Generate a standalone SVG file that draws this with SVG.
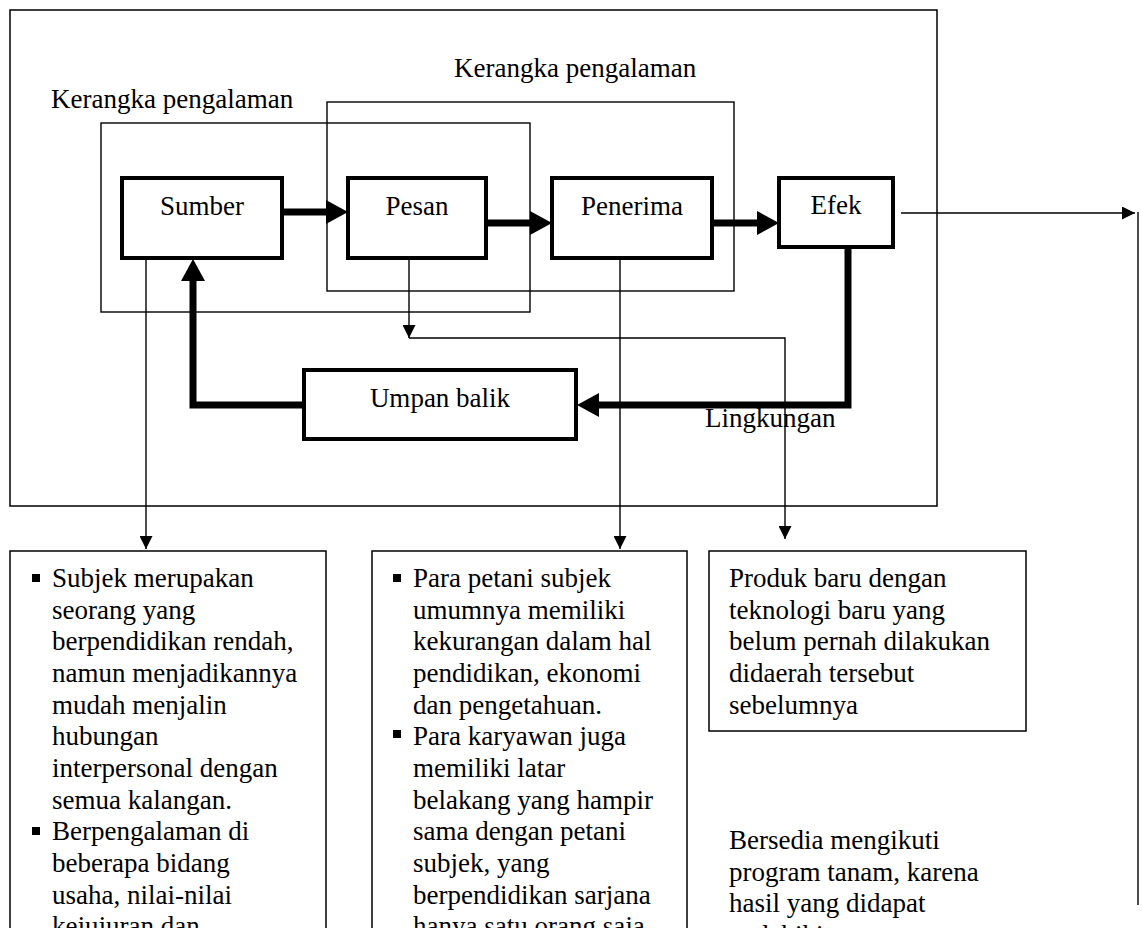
<svg xmlns="http://www.w3.org/2000/svg" width="1142" height="928" viewBox="0 0 1142 928">
<style>
text{font-family:"Liberation Serif","Times New Roman",serif;font-size:27px;fill:#000}
.c{text-anchor:middle}
.thin{fill:none;stroke:#000;stroke-width:1.4}
.box{fill:#fff;stroke:#000;stroke-width:4}
.frame{fill:none;stroke:#000;stroke-width:1.5}
.tb{fill:#fff;stroke:#000;stroke-width:1.5}
.thick{fill:none;stroke:#000;stroke-width:7;stroke-linejoin:miter}
.bul{fill:#000}
</style>
<defs>
<marker id="big" markerUnits="userSpaceOnUse" markerWidth="22" markerHeight="24" refX="0" refY="12" orient="auto">
<path d="M0,0 L22,12 L0,24 z" fill="#000"/>
</marker>
<marker id="small" markerUnits="userSpaceOnUse" markerWidth="13" markerHeight="13" refX="13" refY="6.5" orient="auto">
<path d="M0,0 L13,6.5 L0,13 z" fill="#000"/>
</marker>
</defs>
<rect id="outer" class="frame" x="10" y="10" width="927" height="496"/>
<g id="kerangka1">
<rect class="thin" x="101" y="123" width="429" height="189"/>
<text x="51" y="108">Kerangka pengalaman</text>
</g>
<g id="kerangka2">
<rect class="thin" x="327" y="102" width="407" height="189"/>
<text x="454" y="77">Kerangka pengalaman</text>
</g>
<g id="connectors">
<line class="thick" x1="282" y1="212" x2="326" y2="212" marker-end="url(#big)"/>
<line class="thick" x1="486" y1="223" x2="530" y2="223" marker-end="url(#big)"/>
<line class="thick" x1="712" y1="223" x2="757" y2="223" marker-end="url(#big)"/>
<path class="thick" d="M848,247 V405 H599" marker-end="url(#big)"/>
<path class="thick" d="M304,405 H193 V281" marker-end="url(#big)"/>
<path class="thin" d="M901,213 H1135" marker-end="url(#small)"/>
<path class="thin" d="M1138,212 V905"/>
<path class="thin" d="M146,258 V549" marker-end="url(#small)"/>
<path class="thin" d="M409,247 V338" marker-end="url(#small)"/>
<path class="thin" d="M409,338 H785 V539" marker-end="url(#small)"/>
<path class="thin" d="M620,258 V549" marker-end="url(#small)"/>
</g>
<g id="sumber">
<rect class="box" x="122" y="178" width="160" height="80"/>
<text class="c" x="202" y="215">Sumber</text>
</g>
<g id="pesan">
<rect class="box" x="348" y="178" width="138" height="80"/>
<text class="c" x="417" y="215">Pesan</text>
</g>
<g id="penerima">
<rect class="box" x="552" y="178" width="160" height="80"/>
<text class="c" x="632" y="215">Penerima</text>
</g>
<g id="efek">
<rect class="box" x="779" y="178" width="114" height="69"/>
<text class="c" x="836" y="214">Efek</text>
</g>
<g id="umpan-balik">
<rect class="box" x="304" y="370" width="272" height="69"/>
<text class="c" x="440" y="407">Umpan balik</text>
</g>
<g id="lingkungan">
<text x="705" y="427">Lingkungan</text>
</g>
<g id="box-sumber">
<rect class="tb" x="10" y="551" width="316" height="420"/>
<rect class="bul" x="32" y="574" width="8" height="8"/>
<rect class="bul" x="32" y="827" width="8" height="8"/>
<text x="52" y="587">Subjek merupakan</text>
<text x="52" y="619">seorang yang</text>
<text x="52" y="650">berpendidikan rendah,</text>
<text x="52" y="682">namun menjadikannya</text>
<text x="52" y="714">mudah menjalin</text>
<text x="52" y="745">hubungan</text>
<text x="52" y="777">interpersonal dengan</text>
<text x="52" y="809">semua kalangan.</text>
<text x="52" y="840">Berpengalaman di</text>
<text x="52" y="872">beberapa bidang</text>
<text x="52" y="904">usaha, nilai-nilai</text>
<text x="52" y="935">kejujuran dan</text>
</g>
<g id="box-penerima">
<rect class="tb" x="372" y="551" width="315" height="420"/>
<rect class="bul" x="393" y="574" width="8" height="8"/>
<rect class="bul" x="393" y="730" width="8" height="8"/>
<text x="413" y="587">Para petani subjek</text>
<text x="413" y="619">umumnya memiliki</text>
<text x="413" y="650">kekurangan dalam hal</text>
<text x="413" y="682">pendidikan, ekonomi</text>
<text x="413" y="714">dan pengetahuan.</text>
<text x="413" y="745">Para karyawan juga</text>
<text x="413" y="777">memiliki latar</text>
<text x="413" y="809">belakang yang hampir</text>
<text x="413" y="840">sama dengan petani</text>
<text x="413" y="872">subjek, yang</text>
<text x="413" y="904">berpendidikan sarjana</text>
<text x="413" y="935">hanya satu orang saja</text>
</g>
<g id="box-pesan">
<rect class="tb" x="709" y="551" width="317" height="180"/>
<text x="729" y="587">Produk baru dengan</text>
<text x="729" y="619">teknologi baru yang</text>
<text x="729" y="650">belum pernah dilakukan</text>
<text x="729" y="682">didaerah tersebut</text>
<text x="729" y="714">sebelumnya</text>
</g>
<g id="efek-text">
<text x="729" y="849">Bersedia mengikuti</text>
<text x="729" y="881">program tanam, karena</text>
<text x="729" y="912">hasil yang didapat</text>
<text x="729" y="944">melebihi</text>
</g>
</svg>
